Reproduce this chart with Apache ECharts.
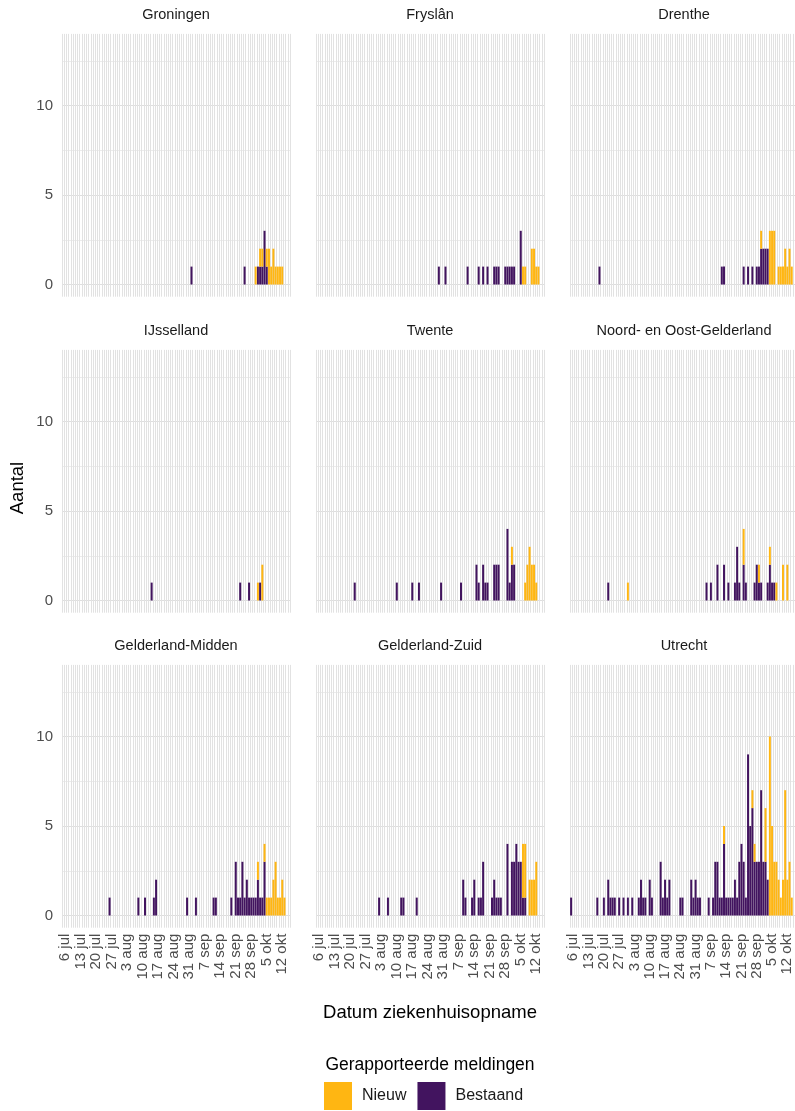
<!DOCTYPE html>
<html>
<head>
<meta charset="utf-8">
<script src="https://cdn.jsdelivr.net/npm/echarts@6/dist/echarts.min.js"></script>
<style>
html,body{margin:0;padding:0;background:#fff;}
#chart{width:795px;height:1111px;}
</style>
</head>
<body>
<div id="chart"></div>
<script>
// ---------- data ----------
const firstDay = [2020, 6, 5];          // 5 jul 2020
const dayCount = 103;                    // 5 jul .. 15 okt
const monthNames = ['jan','feb','mrt','apr','mei','jun','jul','aug','sep','okt','nov','dec'];
const tickLabels = ['6 jul','13 jul','20 jul','27 jul','3 aug','10 aug','17 aug','24 aug','31 aug','7 sep','14 sep','21 sep','28 sep','5 okt','12 okt'];
const yTickLabels = [0, 5, 10];
const regionNames = ['Groningen','Fryslân','Drenthe','IJsselland','Twente','Noord- en Oost-Gelderland','Gelderland-Midden','Gelderland-Zuid','Utrecht'];
const seriesNames = ['Nieuw','Bestaand'];

const groningenBestaand = [['09-01',1],['09-25',1],['10-01',1],['10-02',1],['10-03',1],['10-04',3],['10-05',1]];
const groningenNieuw = [['09-30',1],['10-02',1],['10-03',1],['10-05',1],['10-06',2],['10-07',1],['10-08',2],['10-09',1],['10-10',1],['10-11',1],['10-12',1]];

const fryslanBestaand = [['08-29',1],['09-01',1],['09-11',1],['09-16',1],['09-18',1],['09-20',1],['09-23',1],['09-24',1],['09-25',1],['09-28',1],['09-29',1],['09-30',1],['10-01',1],['10-02',1],['10-05',3]];
const fryslanNieuw = [['10-06',1],['10-07',1],['10-10',2],['10-11',2],['10-12',1],['10-13',1]];

const drentheBestaand = [['07-18',1],['09-12',1],['09-13',1],['09-22',1],['09-24',1],['09-26',1],['09-28',1],['09-29',1],['09-30',2],['10-01',2],['10-02',2],['10-03',2]];
const drentheNieuw = [['09-30',1],['10-04',3],['10-05',3],['10-06',3],['10-08',1],['10-09',1],['10-10',1],['10-11',2],['10-12',1],['10-13',2],['10-14',1]];

const ijssellandBestaand = [['08-14',1],['09-23',1],['09-27',1],['10-02',1]];
const ijssellandNieuw = [['10-01',1],['10-03',2]];

const twenteBestaand = [['07-22',1],['08-10',1],['08-17',1],['08-20',1],['08-30',1],['09-08',1],['09-15',2],['09-16',1],['09-18',2],['09-19',1],['09-20',1],['09-23',2],['09-24',2],['09-25',2],['09-29',4],['09-30',1],['10-01',2],['10-02',2]];
const twenteNieuw = [['10-01',1],['10-07',1],['10-08',2],['10-09',3],['10-10',2],['10-11',2],['10-12',1]];

const noordOostGelderlandBestaand = [['07-22',1],['09-05',1],['09-07',1],['09-10',2],['09-13',2],['09-15',1],['09-18',1],['09-19',3],['09-20',1],['09-22',2],['09-23',1],['09-27',1],['09-28',2],['09-29',1],['09-30',1],['10-03',1],['10-04',2],['10-05',1],['10-06',1]];
const noordOostGelderlandNieuw = [['07-31',1],['09-22',2],['09-29',1],['10-04',1],['10-07',1],['10-10',2],['10-12',2]];

const gelderlandMiddenBestaand = [['07-26',1],['08-08',1],['08-11',1],['08-15',1],['08-16',2],['08-30',1],['09-03',1],['09-11',1],['09-12',1],['09-19',1],['09-21',3],['09-22',1],['09-23',1],['09-24',3],['09-25',1],['09-26',2],['09-27',1],['09-28',1],['09-29',1],['09-30',1],['10-01',2],['10-02',1],['10-03',1],['10-04',3]];
const gelderlandMiddenNieuw = [['10-01',1],['10-04',1],['10-05',1],['10-06',1],['10-07',1],['10-08',2],['10-09',3],['10-10',1],['10-11',1],['10-12',2],['10-13',1]];

const gelderlandZuidBestaand = [['08-02',1],['08-06',1],['08-12',1],['08-13',1],['08-19',1],['09-09',2],['09-10',1],['09-13',1],['09-14',2],['09-16',1],['09-17',1],['09-18',3],['09-22',1],['09-23',2],['09-24',1],['09-25',1],['09-26',1],['09-29',4],['10-01',3],['10-02',3],['10-03',4],['10-04',3],['10-05',3],['10-06',1],['10-07',1]];
const gelderlandZuidNieuw = [['10-06',3],['10-07',3],['10-09',2],['10-10',2],['10-11',2],['10-12',3]];

const utrechtBestaand = [['07-05',1],['07-17',1],['07-20',1],['07-22',2],['07-23',1],['07-24',1],['07-25',1],['07-27',1],['07-29',1],['07-31',1],['08-02',1],['08-05',1],['08-06',2],['08-07',1],['08-08',1],['08-10',2],['08-11',1],['08-15',3],['08-16',1],['08-17',2],['08-18',1],['08-19',2],['08-24',1],['08-25',1],['08-29',2],['08-30',1],['08-31',2],['09-01',1],['09-02',1],['09-06',1],['09-08',1],['09-09',3],['09-10',3],['09-11',1],['09-12',1],['09-13',4],['09-14',1],['09-15',1],['09-16',1],['09-17',1],['09-18',2],['09-19',1],['09-20',3],['09-21',4],['09-22',3],['09-23',1],['09-24',9],['09-25',5],['09-26',6],['09-27',3],['09-28',3],['09-29',3],['09-30',7],['10-01',3],['10-02',3],['10-03',2]];
const utrechtNieuw = [['09-13',1],['09-26',1],['09-27',1],['10-02',3],['10-04',10],['10-05',5],['10-06',3],['10-07',3],['10-08',2],['10-09',1],['10-10',2],['10-11',7],['10-12',2],['10-13',3],['10-14',1]];

const regionBestaand = [groningenBestaand, fryslanBestaand, drentheBestaand, ijssellandBestaand, twenteBestaand, noordOostGelderlandBestaand, gelderlandMiddenBestaand, gelderlandZuidBestaand, utrechtBestaand];
const regionNieuw = [groningenNieuw, fryslanNieuw, drentheNieuw, ijssellandNieuw, twenteNieuw, noordOostGelderlandNieuw, gelderlandMiddenNieuw, gelderlandZuidNieuw, utrechtNieuw];

// ---------- layout / style ----------
const FONT = '"Liberation Sans", Arial, Helvetica, sans-serif';
const COLOR_NIEUW = '#ffb612';
const COLOR_BESTAAND = '#42145f';
const COL_LEFT = [62, 316, 570];
const ROW_ZERO = [284.5, 600.5, 915.5];
const UNIT = 17.9;
const PANEL_W = 228;
const Y_MAX = 14;
const Y_PAD = 0.68;

const dayKeys = [], dayLabels = [];
for (let i = 0; i < dayCount; i++) {
  const d = new Date(Date.UTC(firstDay[0], firstDay[1], firstDay[2] + i));
  dayKeys.push(String(d.getUTCMonth() + 1).padStart(2, '0') + '-' + String(d.getUTCDate()).padStart(2, '0'));
  dayLabels.push(d.getUTCDate() + ' ' + monthNames[d.getUTCMonth()]);
}
function toDaily(pairs) {
  const arr = dayKeys.map(() => 0);
  pairs.forEach(([k, v]) => { arr[dayKeys.indexOf(k)] = v; });
  return arr;
}

const grid = [], xAxis = [], yAxis = [], series = [], graphic = [];
regionNames.forEach((name, k) => {
  const col = k % 3, row = Math.floor(k / 3);
  const left = COL_LEFT[col], zero = ROW_ZERO[row];
  const top = zero - Y_MAX * UNIT;
  // background grid (full panel incl. padding below 0) for vertical grid lines + x labels
  grid.push({left: left, top: top, width: PANEL_W, height: (Y_MAX + Y_PAD) * UNIT});
  // data grid (0 .. 14)
  grid.push({left: left, top: top, width: PANEL_W, height: Y_MAX * UNIT});
  const gA = 2 * k, gB = 2 * k + 1;
  xAxis.push({
    type: 'category', gridIndex: gA, data: dayLabels, boundaryGap: true,
    axisLine: {show: false}, axisTick: {show: false},
    splitLine: {show: true, interval: 0, lineStyle: {color: '#e2e2e2', width: 1}},
    axisLabel: {
      show: row === 2, interval: (idx, val) => tickLabels.includes(val),
      rotate: 90, margin: 6, fontSize: 15, color: '#4d4d4d', fontFamily: FONT
    }
  });
  yAxis.push({type: 'value', gridIndex: gA, min: 0, max: 1, show: false, splitLine: {show: false}});
  xAxis.push({type: 'category', gridIndex: gB, data: dayLabels, boundaryGap: true, show: false});
  yAxis.push({
    type: 'value', gridIndex: gB, min: 0, max: Y_MAX, interval: 2.5,
    axisLine: {show: false}, axisTick: {show: false},
    axisLabel: {
      show: col === 0, margin: 9, fontSize: 15, color: '#4d4d4d', fontFamily: FONT,
      showMaxLabel: false,
      formatter: v => yTickLabels.includes(v) ? String(v) : ''
    },
    splitLine: {show: true, showMaxLine: false, lineStyle: {color: ['#dedede', '#ececec'], width: 1}}
  });
  series.push({
    name: 'Bestaand', type: 'bar', xAxisIndex: gB, yAxisIndex: gB, stack: 'p' + k,
    barCategoryGap: '10%', data: toDaily(regionBestaand[k]),
    itemStyle: {color: COLOR_BESTAAND}, emphasis: {disabled: true}
  });
  series.push({
    name: 'Nieuw', type: 'bar', xAxisIndex: gB, yAxisIndex: gB, stack: 'p' + k,
    barCategoryGap: '10%', data: toDaily(regionNieuw[k]),
    itemStyle: {color: COLOR_NIEUW}, emphasis: {disabled: true}
  });
  graphic.push({
    type: 'text', x: left + PANEL_W / 2, y: top - 19,
    style: {text: name, fontSize: 14.5, fontFamily: FONT, fill: '#1a1a1a', align: 'center', verticalAlign: 'middle'}
  });
});

graphic.push({
  type: 'text', x: 18, y: 488, rotation: Math.PI / 2,
  style: {text: 'Aantal', fontSize: 18.5, fontFamily: FONT, fill: '#000', align: 'center', verticalAlign: 'middle'}
});
graphic.push({
  type: 'text', x: 430, y: 1013,
  style: {text: 'Datum ziekenhuisopname', fontSize: 18.5, fontFamily: FONT, fill: '#000', align: 'center', verticalAlign: 'middle'}
});
graphic.push({
  type: 'text', x: 430, y: 1065,
  style: {text: 'Gerapporteerde meldingen', fontSize: 17.5, fontFamily: FONT, fill: '#000', align: 'center', verticalAlign: 'middle'}
});

const chart = echarts.init(document.getElementById('chart'), null, {renderer: 'canvas'});
chart.setOption({
  animation: false,
  backgroundColor: '#ffffff',
  grid: grid, xAxis: xAxis, yAxis: yAxis, series: series, graphic: graphic,
  legend: {
    data: seriesNames, left: 319, top: 1077, itemWidth: 28, itemHeight: 28, itemGap: 11,
    icon: 'rect', selectedMode: false,
    textStyle: {fontSize: 16, color: '#1a1a1a', fontFamily: FONT, padding: [0, 0, 0, 5]}
  }
});
</script>
</body>
</html>
